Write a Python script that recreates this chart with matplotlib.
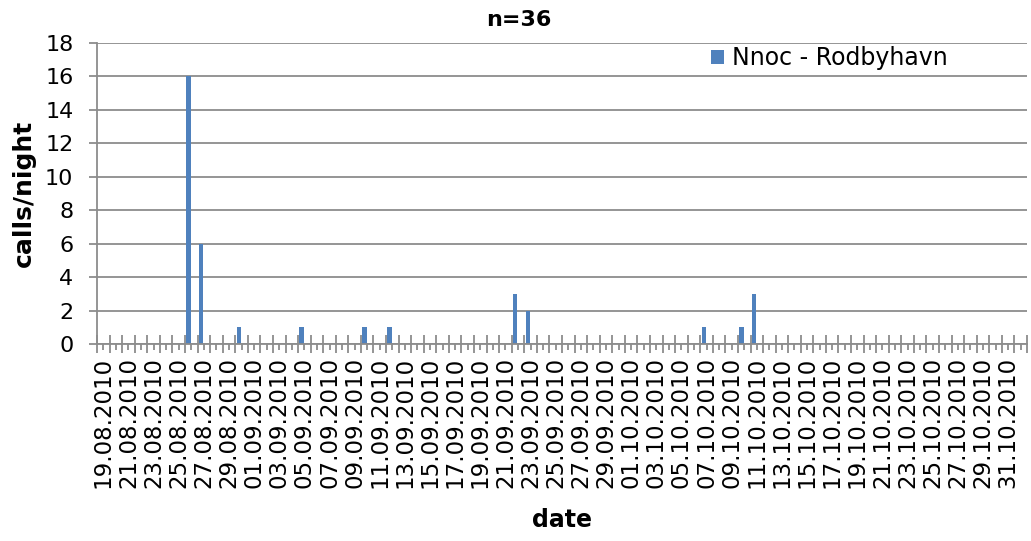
#!/usr/bin/env python3

import numpy as np
from matplotlib import pyplot as plt

# categories: one per night (31.08 is not in the sheet)
date_labels = (['%02d.08.2010' % d for d in range(19, 31)]
               + ['%02d.09.2010' % d for d in range(1, 31)]
               + ['%02d.10.2010' % d for d in range(1, 32)]
               + ['01.11.2010'])

# nights with calls (all other nights are zero)
call_nights = ['26.08.2010', '27.08.2010', '30.08.2010', '05.09.2010',
               '10.09.2010', '12.09.2010', '22.09.2010', '23.09.2010',
               '07.10.2010', '10.10.2010', '11.10.2010']
call_counts = [16, 6, 1, 1, 1, 1, 3, 2, 1, 1, 3]

series_name = 'Nnoc - Rodbyhavn'
bar_color = '#4F81BD'
grid_color = '#8C8C8C'

plt.rcParams['font.family'] = 'DejaVu Sans'


def main():
    n_days = len(date_labels)
    calls = np.zeros(n_days)
    for lab, c in zip(call_nights, call_counts):
        calls[date_labels.index(lab)] = c

    fig = plt.figure(figsize=(10.31, 5.41), dpi=100)
    ax = fig.add_axes([0.0941, 0.364, 0.902, 0.5565])

    x = np.arange(n_days)
    ax.bar(x + 0.28, calls, width=0.34, color=bar_color, label=series_name,
           zorder=3)

    ax.set_xlim(0, n_days)
    ax.set_ylim(0, 18)
    ax.set_yticks(np.arange(0, 19, 2))
    ax.yaxis.grid(True, color=grid_color, linewidth=1.3, zorder=0)

    # long ticks on category boundaries, short ones at centres carry labels
    ax.set_xticks(np.arange(0, n_days + 1))
    ax.set_xticklabels([])
    ax.set_xticks(x + 0.5, minor=True)
    ax.set_xticklabels([lab if i % 2 == 0 else '' for i, lab in enumerate(date_labels)],
                       minor=True, rotation=90, fontsize=16.5)
    ax.tick_params(axis='x', which='major', direction='inout', length=13,
                   width=1.3, color=grid_color)
    ax.tick_params(axis='x', which='minor', direction='out', length=4.3,
                   width=1.3, color=grid_color, pad=5)
    ax.tick_params(axis='y', direction='out', length=6, width=1.3,
                   color=grid_color, labelsize=16, pad=11)

    for s in ['top', 'right']:
        ax.spines[s].set_visible(False)
    for s in ['left', 'bottom']:
        ax.spines[s].set_color(grid_color)
        ax.spines[s].set_linewidth(1.3)
        ax.spines[s].set_zorder(4)

    ax.set_ylabel('calls/night', fontsize=18, fontweight='bold', va='center')
    ax.yaxis.set_label_coords(-0.0785, 0.5)
    ax.set_xlabel('date', fontsize=17, fontweight='bold', va='center')
    ax.xaxis.set_label_coords(0.5, -0.585)

    fig.text(519 / 1031, 1 - 19.5 / 541, 'n=36', ha='center', va='center',
             fontsize=16, fontweight='bold')

    ax.legend(loc='center left', bbox_to_anchor=(711 / 1031, 1 - 58 / 541),
              bbox_transform=fig.transFigure, frameon=False, fontsize=17,
              handlelength=0.55, handleheight=0.55, handletextpad=0.34,
              borderpad=0, borderaxespad=0)

    fig.savefig('out.png', dpi=100)


if __name__ == '__main__':
    main()
